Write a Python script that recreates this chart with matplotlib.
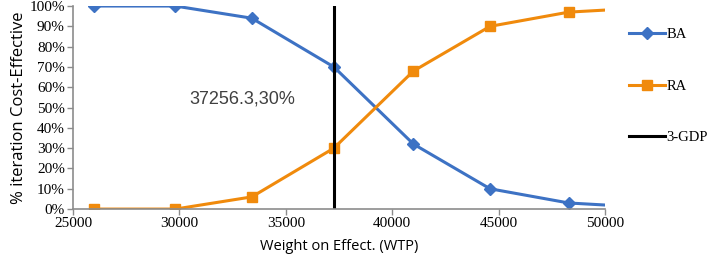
import numpy as np
import matplotlib
matplotlib.use('Agg')
import matplotlib.pyplot as plt
from matplotlib.ticker import FuncFormatter

# data
wtp = [26000, 29800, 33400, 37256.3, 41000, 44600, 48300, 50000]
ba = [100, 100, 94, 70, 32, 10, 3, 2]
ra = [0, 0, 6, 30, 68, 90, 97, 98]
gdp3 = 37256.3

blue = '#3d72c4'
orange = '#f08a0c'
grey = '#8c8c8c'

fig = plt.figure(figsize=(7.1, 2.62), dpi=100)
ax = fig.add_axes([0.103, 0.202, 0.749, 0.775])

marks = list(range(len(wtp) - 1))
ax.plot(wtp, ba, color=blue, lw=2.2, marker='D', ms=6, markevery=marks, label='BA')
ax.plot(wtp, ra, color=orange, lw=2.2, marker='s', ms=7, markevery=marks, label='RA')
ax.plot([gdp3, gdp3], [0, 100], color='black', lw=2.2, label='3-GDP')

ax.text(32970, 54, '37256.3,30%', fontsize=13, color='#404040', family='Liberation Sans',
        ha='center', va='center')

ax.set_xlim(25000, 50000)
ax.set_ylim(0, 100)
ax.set_xticks(np.arange(25000, 50001, 5000))
ax.set_yticks(np.arange(0, 101, 10))
ax.yaxis.set_major_formatter(FuncFormatter(lambda v, p: '%d%%' % v))

for s in ['top', 'right']:
    ax.spines[s].set_visible(False)
for s in ['left', 'bottom']:
    ax.spines[s].set_color(grey)
    ax.spines[s].set_linewidth(1.2)
ax.tick_params(axis='both', direction='out', length=4, width=1, color=grey,
               labelsize=11, pad=2)
for lab in ax.get_xticklabels() + ax.get_yticklabels():
    lab.set_family('Liberation Serif')

ax.set_xlabel('Weight on Effect. (WTP)', fontsize=10.5, family='Open Sans', labelpad=6)
ax.set_ylabel('% iteration Cost-Effective', fontsize=12, family='Open Sans', labelpad=2)

leg = ax.legend(loc='upper left', bbox_to_anchor=(1.02, 0.955), frameon=False,
                labelspacing=2.6, handlelength=2.5, handletextpad=0.1,
                prop={'family': 'Liberation Serif', 'size': 10.5})

fig.savefig('out.png', dpi=100)
